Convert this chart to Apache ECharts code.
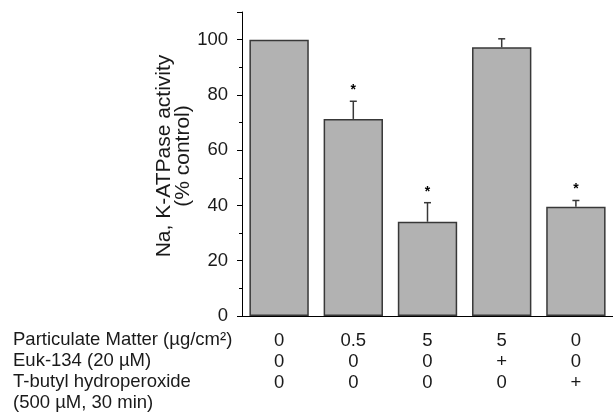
<!DOCTYPE html>
<html>
<head>
<meta charset="utf-8">
<script src="https://cdn.jsdelivr.net/npm/echarts@6/dist/echarts.min.js"></script>
<style>
html,body{margin:0;padding:0;background:#fff;}
#chart{width:613px;height:416px;}
</style>
</head>
<body>
<div id="chart"></div>
<script>
// Data
var categories = ['c1', 'c2', 'c3', 'c4', 'c5'];
var activity = [100, 71.3, 34.1, 97.2, 39.5];
var errorTop = [100, 77.7, 41.0, 100.3, 41.8];
var significant = [false, true, true, false, true];
var particulateMatter = ['0', '0.5', '5', '5', '0'];
var euk134 = ['0', '0', '0', '+', '0'];
var tButyl = ['0', '0', '0', '0', '+'];
var rowLabels = ['Particulate Matter (µg/cm²)', 'Euk-134 (20 µM)', 'T-butyl hydroperoxide', '(500 µM, 30 min)'];
var yTicks = [0, 20, 40, 60, 80, 100];

var FONT = '"Liberation Sans", Arial, sans-serif';
var TXT = '#1a1a1a';

var chart = echarts.init(document.getElementById('chart'), null, {renderer: 'canvas'});

var errData = categories.map(function (c, i) {
  return [i, activity[i], errorTop[i], significant[i] ? 1 : 0];
});

var rowY = [340, 361, 382, 403];
var graphics = rowLabels.map(function (t, i) {
  return {
    type: 'text',
    left: 13,
    top: rowY[i] - 10,
    style: {text: t, fill: TXT, font: '18.5px ' + FONT}
  };
});

var option = {
  animation: false,
  backgroundColor: '#fff',
  grid: {left: 242, top: 12, width: 374, height: 304, containLabel: false},
  xAxis: {
    type: 'category',
    data: categories,
    axisLine: {lineStyle: {color: '#000', width: 1}},
    axisTick: {show: false},
    axisLabel: {
      margin: 14,
      color: TXT,
      fontFamily: FONT,
      fontSize: 18.5,
      lineHeight: 21,
      formatter: function (v, i) {
        return particulateMatter[i] + '\n' + euk134[i] + '\n' + tButyl[i];
      }
    }
  },
  yAxis: {
    type: 'value',
    min: 0,
    max: 110,
    interval: 20,
    name: 'Na, K-ATPase activity\n(% control)',
    nameLocation: 'middle',
    nameGap: 49,
    nameMoveOverlap: false,
    nameTextStyle: {color: TXT, fontFamily: FONT, fontSize: 21, lineHeight: 19, padding: [0, 0, 0, 16]},
    axisLine: {show: true, lineStyle: {color: '#000', width: 1}},
    axisTick: {show: true, inside: false, length: 5, lineStyle: {color: '#000'}},
    minorTick: {show: true, splitNumber: 2, length: 3, lineStyle: {color: '#000'}},
    splitLine: {show: false},
    axisLabel: {
      margin: 14,
      color: TXT,
      fontFamily: FONT,
      fontSize: 18.5,
      formatter: function (v) { return yTicks.indexOf(v) >= 0 ? String(v) : ''; }
    }
  },
  graphic: graphics,
  series: [
    {
      type: 'bar',
      data: activity,
      barWidth: '80%',
      itemStyle: {color: '#b2b2b2', borderColor: '#383838', borderWidth: 1.5}
    },
    {
      type: 'custom',
      data: errData,
      encode: {x: 0, y: [1, 2]},
      z: 5,
      renderItem: function (params, api) {
        var idx = api.value(0);
        var p0 = api.coord([idx, api.value(1)]);
        var p1 = api.coord([idx, api.value(2)]);
        var half = 3.5;
        var children = [];
        if (Math.abs(p0[1] - p1[1]) > 0.5) {
          children.push({type: 'line', shape: {x1: p0[0], y1: p0[1], x2: p1[0], y2: p1[1]}, style: {stroke: '#383838', lineWidth: 1.5}});
          children.push({type: 'line', shape: {x1: p1[0] - half, y1: p1[1], x2: p1[0] + half, y2: p1[1]}, style: {stroke: '#383838', lineWidth: 1.5}});
        }
        if (api.value(3)) {
          children.push({type: 'text', style: {text: '*', x: p1[0], y: p1[1] - 4, align: 'center', verticalAlign: 'bottom', fill: '#000', font: 'bold 14px ' + FONT}});
        }
        return {type: 'group', children: children};
      }
    }
  ]
};
chart.setOption(option);
</script>
</body>
</html>
